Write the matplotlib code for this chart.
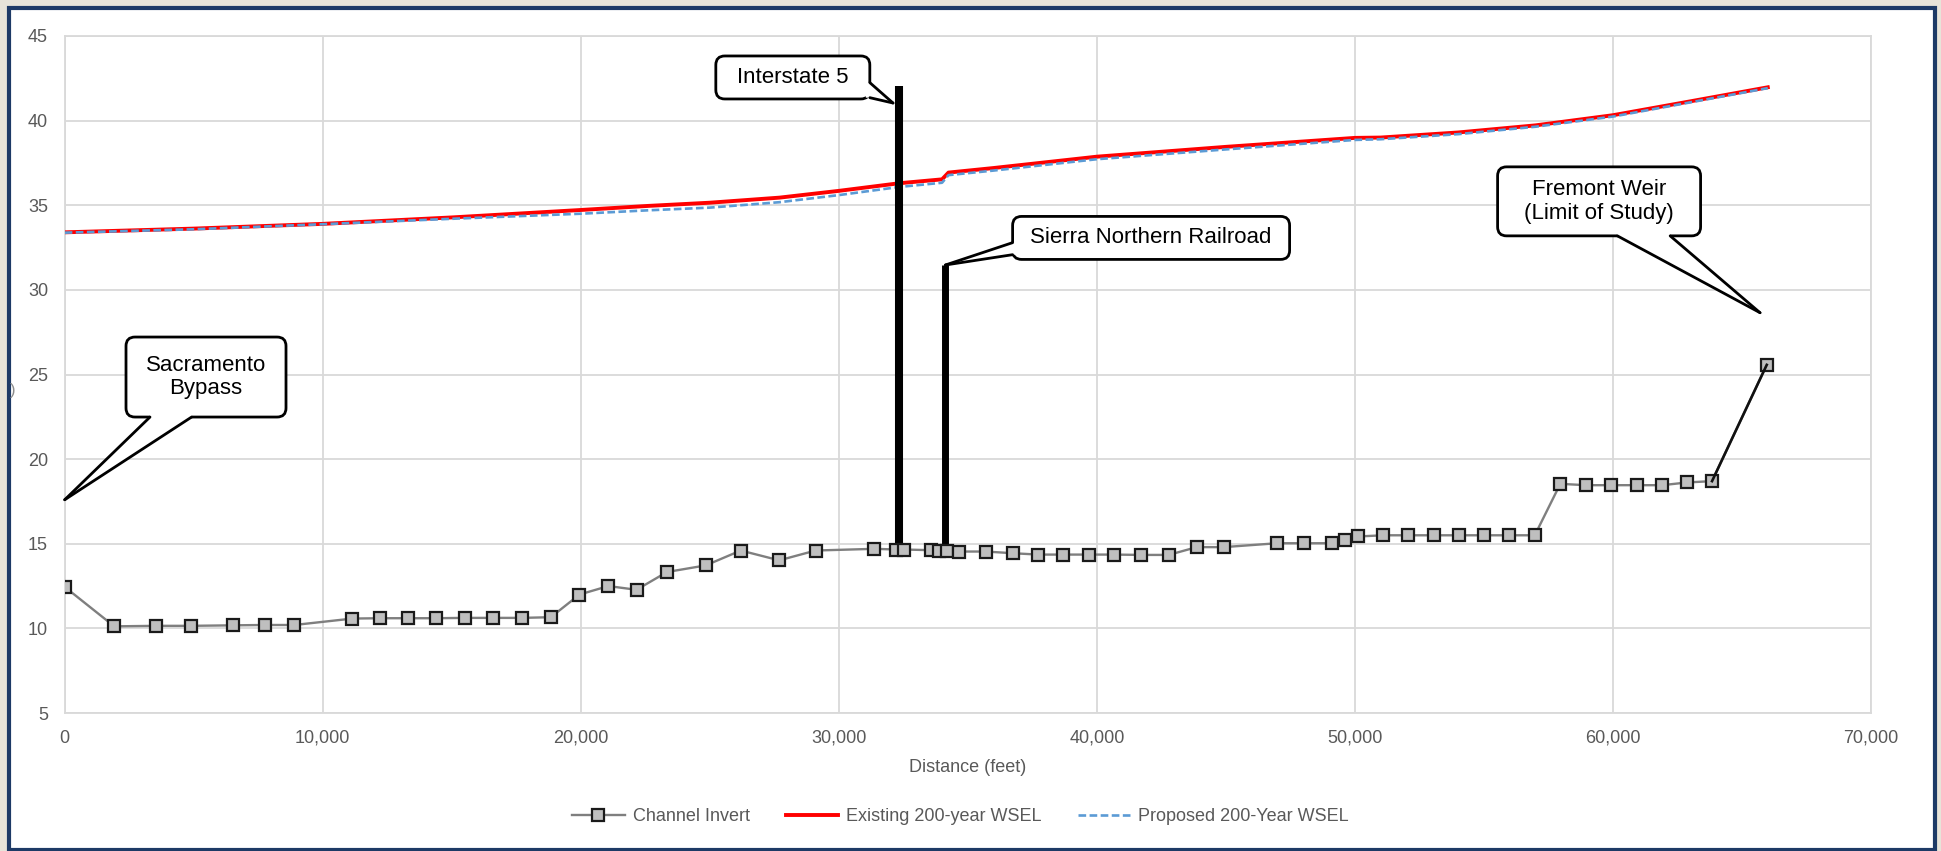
import matplotlib
matplotlib.use("Agg")
import matplotlib.pyplot as plt
from matplotlib.patches import FancyBboxPatch, Polygon, Rectangle
from matplotlib.transforms import IdentityTransform
from matplotlib.ticker import FuncFormatter
from matplotlib.lines import Line2D

plt.rcParams['font.family'] = ['Liberation Sans', 'DejaVu Sans']

# ---- profile data -------------------------------------------------------
station_invert = [0, 1920, 3540, 4880, 6520, 7750, 8900, 11150, 12220, 13290,
                  14380, 15520, 16610, 17720, 18840, 19950, 21070, 22160, 23340,
                  24840, 26200, 27690, 29100, 31380, 32210, 32530, 33560, 33890,
                  34210, 34660, 35700, 36740, 37730, 38700, 39680, 40670, 41720,
                  42780, 43870, 44910, 46980, 48040, 49100, 49600, 50120, 51100,
                  52070, 53050, 54030, 55010, 55990, 56970, 57960, 58950, 59930,
                  60930, 61910, 62860, 63840, 65960]
channel_invert = [12.45, 10.12, 10.15, 10.15, 10.18, 10.2, 10.2, 10.58, 10.6, 10.6,
                  10.6, 10.62, 10.62, 10.62, 10.66, 12.0, 12.5, 12.28, 13.33,
                  13.72, 14.6, 14.02, 14.6, 14.7, 14.66, 14.66, 14.62, 14.6,
                  14.6, 14.54, 14.54, 14.44, 14.36, 14.36, 14.36, 14.36, 14.34,
                  14.34, 14.8, 14.8, 15.03, 15.03, 15.03, 15.23, 15.43, 15.5,
                  15.5, 15.5, 15.5, 15.5, 15.5, 15.5, 18.54, 18.46, 18.46,
                  18.46, 18.46, 18.62, 18.7, 25.57]

station_wsel = [0, 5000, 10000, 15000, 20000, 22600, 25000, 27700, 30000, 32340,
                34000, 34250, 36000, 40000, 45000, 50000, 51000, 54000, 57000,
                60000, 63000, 66000]
existing_wsel = [33.40, 33.62, 33.90, 34.28, 34.72, 34.96, 35.15, 35.45, 35.85, 36.30,
                 36.53, 36.93, 37.20, 37.87, 38.45, 38.98, 39.00, 39.30, 39.72,
                 40.32, 41.14, 41.97]
proposed_wsel = [33.38, 33.58, 33.88, 34.20, 34.50, 34.70, 34.86, 35.18, 35.60, 36.08,
                 36.33, 36.78, 37.05, 37.72, 38.30, 38.86, 38.90, 39.20, 39.64,
                 40.24, 41.08, 41.92]

series_labels = ["Channel Invert", "Existing 200-year WSEL", "Proposed 200-Year WSEL"]

# crossings (bridge deck markers)
crossing_station = [32340, 34130]
crossing_bottom = [14.66, 14.6]
crossing_top = [42.05, 31.47]
crossing_width = [5.8, 5.0]

# callouts: text, pointed location, box centre (data units)
callout_text = ["Sacramento\nBypass", "Interstate 5",
                "Sierra Northern Railroad", "Fremont Weir\n(Limit of Study)"]
callout_tip = [(0, 17.6), (32100, 41.04), (34130, 31.47), (65700, 28.65)]
callout_center = [(5476, 24.85), (28217, 42.55), (42102, 33.07), (59463, 35.23)]
callout_size_px = [(160, 80), (154, 43), (277, 43), (203, 69)]
callout_base = [("bottom", 0.15, 0.41), ("right", 0.62, 0.97),
                ("left", 0.61, 0.89), ("bottom", 0.59, 0.85)]

x_ticks = list(range(0, 70001, 10000))
y_ticks = list(range(5, 46, 5))

# ---- figure -------------------------------------------------------------
W, H, DPI = 1941, 851, 100
fig = plt.figure(figsize=(W / DPI, H / DPI), dpi=DPI, facecolor="#e7e4d9")
ident = IdentityTransform()

frame = Rectangle((9, 1), 1926, 842.5, facecolor="white", edgecolor="#1d3a66",
                  linewidth=3.0, transform=ident, zorder=0)
fig.add_artist(frame)

ax = fig.add_axes([64.7 / W, (H - 713) / H, (1871 - 64.7) / W, (713 - 36) / H])
ax.set_facecolor("white")
ax.set_xlim(0, 70000)
ax.set_ylim(5, 45)
ax.set_xticks(x_ticks)
ax.set_yticks(y_ticks)
ax.xaxis.set_major_formatter(FuncFormatter(lambda v, p: f"{int(v):,}"))
ax.grid(True, color="#d9d9d9", linewidth=1.3, zorder=0)
ax.set_axisbelow(True)
for s in ax.spines.values():
    s.set_color("#d9d9d9")
    s.set_linewidth(1.3)
ax.tick_params(axis="both", length=0, labelsize=13, labelcolor="#595959", pad=12)
ax.set_xlabel("Distance (feet)", fontsize=13, color="#595959", labelpad=9)

# water surface profiles
ax.plot(station_wsel, existing_wsel, color="#ff0000", linewidth=2.8, zorder=3,
        label=series_labels[1])
ax.plot(station_wsel, proposed_wsel, color="#5b9bd5", linewidth=1.9, zorder=3.2,
        linestyle=(0, (2.9, 1.3)), label=series_labels[2])

# crossings
ax.vlines(crossing_station, crossing_bottom, crossing_top, colors="black",
          linewidths=crossing_width, zorder=4)

# channel invert
ax.plot(station_invert[-2:], channel_invert[-2:], color="#111111", linewidth=1.9,
        zorder=5.5)
ax.plot(station_invert, channel_invert, color="#7f7f7f", linewidth=1.7,
        marker="s", markersize=8, markerfacecolor="#bfbfbf",
        markeredgecolor="#1a1a1a", markeredgewidth=1.6, zorder=5,
        label=series_labels[0])

# legend
handles = [
    Line2D([], [], color="#7f7f7f", linewidth=1.7, marker="s", markersize=8,
           markerfacecolor="#bfbfbf", markeredgecolor="#1a1a1a", markeredgewidth=1.6),
    Line2D([], [], color="#ff0000", linewidth=2.8),
    Line2D([], [], color="#5b9bd5", linewidth=1.9, linestyle=(0, (2.9, 1.3))),
]
leg = ax.legend(handles, series_labels, loc="center", bbox_to_anchor=(0.496, -0.1536),
                bbox_transform=ax.transAxes, ncol=3, frameon=False, fontsize=13,
                handlelength=2.9, handletextpad=0.45, columnspacing=2.0)
for t in leg.get_texts():
    t.set_color("#595959")

# fragment of the vertical axis title
fig.text(13 / W, 1 - 390 / H, ")", fontsize=12, color="#8c8c8c",
         ha="center", va="center")


def draw_callout(text, tip, center, size, base):
    cx, cy = ax.transData.transform(center)
    tx, ty = ax.transData.transform(tip)
    w, h = size
    x0, y0 = cx - w / 2, cy - h / 2
    box = FancyBboxPatch((x0, y0), w, h, boxstyle="round,pad=0,rounding_size=9",
                         facecolor="white", edgecolor="black", linewidth=2.0,
                         transform=ident, zorder=10)
    fig.add_artist(box)
    side, f0, f1 = base
    inset = 4
    if side == "bottom":
        b0, b1 = (x0 + f0 * w, y0), (x0 + f1 * w, y0)
        i0, i1 = (b0[0], y0 + inset), (b1[0], y0 + inset)
    elif side == "right":
        b0, b1 = (x0 + w, y0 + h - f0 * h), (x0 + w, y0 + h - f1 * h)
        i0, i1 = (x0 + w - inset, b0[1]), (x0 + w - inset, b1[1])
    else:
        b0, b1 = (x0, y0 + h - f0 * h), (x0, y0 + h - f1 * h)
        i0, i1 = (x0 + inset, b0[1]), (x0 + inset, b1[1])
    fill = Polygon([(tx, ty), b0, i0, i1, b1], closed=True, facecolor="white",
                   edgecolor="none", transform=ident, zorder=11)
    fig.add_artist(fill)
    for b in (b0, b1):
        fig.add_artist(Line2D([b[0], tx], [b[1], ty], color="black", linewidth=2.0,
                              transform=ident, zorder=12, solid_capstyle="round"))
    fig.text(cx / W, cy / H, text, fontsize=16, color="black", ha="center",
             va="center", multialignment="center", linespacing=1.15, zorder=13)


for args in zip(callout_text, callout_tip, callout_center, callout_size_px, callout_base):
    draw_callout(*args)

fig.savefig("out.png", dpi=DPI, facecolor=fig.get_facecolor())
